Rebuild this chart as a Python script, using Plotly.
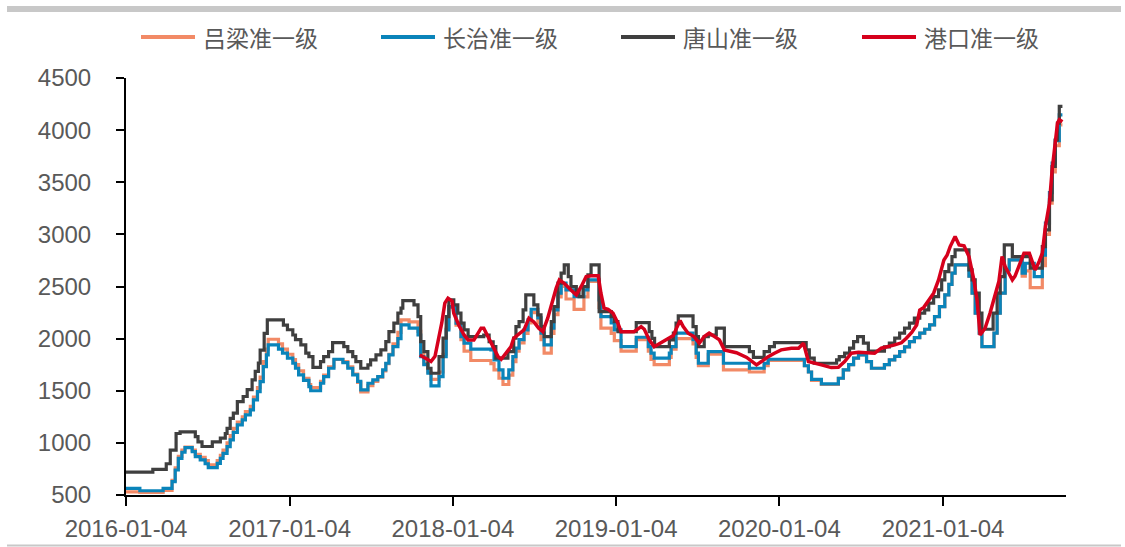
import plotly.graph_objects as go

# ---------------- data ----------------
series_names = ["吕梁准一级", "长治准一级", "唐山准一级", "港口准一级"]
series_colors = ["#F28A66", "#0A84BA", "#3F3F3F", "#D6001C"]

x_tick_dates = ["2016-01-04", "2017-01-04", "2018-01-04", "2019-01-04", "2020-01-04", "2021-01-04"]
y_ticks = [500, 1000, 1500, 2000, 2500, 3000, 3500, 4000, 4500]

# 长治准一级 (blue)
cz_dates = [
    "2016-01-04", "2016-02-04", "2016-03-27", "2016-04-16", "2016-04-23", "2016-04-30", "2016-05-08", "2016-05-15",
    "2016-05-31", "2016-06-07", "2016-06-18", "2016-06-29", "2016-07-06", "2016-07-26", "2016-08-02", "2016-08-08",
    "2016-08-17", "2016-08-24", "2016-08-31", "2016-09-09", "2016-09-20", "2016-09-27", "2016-10-08", "2016-10-15",
    "2016-10-24", "2016-10-30", "2016-11-06", "2016-11-13", "2016-11-17", "2016-12-10", "2016-12-19", "2016-12-30",
    "2017-01-11", "2017-01-17", "2017-01-24", "2017-02-04", "2017-02-16", "2017-02-20", "2017-03-14", "2017-03-21",
    "2017-04-01", "2017-04-13", "2017-05-03", "2017-05-14", "2017-05-25", "2017-06-05", "2017-06-12", "2017-06-28",
    "2017-07-09", "2017-07-20", "2017-07-31", "2017-08-07", "2017-08-14", "2017-08-23", "2017-09-03", "2017-09-10",
    "2017-09-28", "2017-10-18", "2017-10-24", "2017-10-31", "2017-11-09", "2017-11-16", "2017-12-04", "2017-12-13",
    "2017-12-20", "2017-12-26", "2018-01-11", "2018-01-22", "2018-01-29", "2018-02-13", "2018-03-30", "2018-04-06",
    "2018-04-17", "2018-04-26", "2018-05-09", "2018-05-18", "2018-05-25", "2018-06-01", "2018-06-12", "2018-06-21",
    "2018-06-28", "2018-07-13", "2018-07-20", "2018-07-27", "2018-08-12", "2018-08-18", "2018-08-27", "2018-09-03",
    "2018-09-14", "2018-10-02", "2018-10-24", "2018-11-02", "2018-11-27", "2018-12-01", "2018-12-24", "2018-12-31",
    "2019-01-15", "2019-02-18", "2019-03-17", "2019-03-23", "2019-03-30", "2019-05-03", "2019-05-07", "2019-05-18",
    "2019-06-25", "2019-07-02", "2019-07-07", "2019-07-29", "2019-09-01", "2019-10-29", "2019-12-01", "2019-12-10",
    "2020-02-29", "2020-03-09", "2020-03-16", "2020-04-07", "2020-05-15", "2020-05-26", "2020-06-07", "2020-06-18",
    "2020-06-29", "2020-07-17", "2020-07-28", "2020-08-26", "2020-09-06", "2020-09-18", "2020-09-29", "2020-10-10",
    "2020-10-21", "2020-11-01", "2020-11-13", "2020-11-24", "2020-12-05", "2020-12-16", "2020-12-27", "2021-01-08",
    "2021-01-17", "2021-01-24", "2021-01-31", "2021-03-03", "2021-03-10", "2021-03-17", "2021-03-26", "2021-04-01",
    "2021-04-28", "2021-05-05", "2021-05-12", "2021-05-23", "2021-06-01", "2021-06-30", "2021-07-07", "2021-07-27",
    "2021-08-14", "2021-08-21", "2021-08-30", "2021-09-05", "2021-09-12", "2021-09-21", "2021-09-28",
]
cz_values = [
    564, 541, 564, 628, 740, 852, 910, 954,
    916, 868, 836, 800, 762, 804, 852, 900,
    964, 1028, 1100, 1172, 1220, 1268, 1316, 1412,
    1492, 1588, 1731, 1844, 1940, 1900, 1860, 1812,
    1764, 1716, 1652, 1600, 1540, 1500, 1572, 1636,
    1716, 1802, 1770, 1716, 1652, 1590, 1508, 1572,
    1604, 1636, 1700, 1764, 1844, 1923, 2000, 2131,
    2100, 2035, 1827, 1750, 1668, 1546, 1636, 1827,
    2083, 2307, 2148, 2019, 1956, 1900, 1892, 1796,
    1700, 1620, 1700, 1827, 1908, 1990, 2083, 2180,
    2282, 2200, 2052, 1940, 2100, 2275, 2436, 2532,
    2467, 2403, 2467, 2563, 2371, 2211, 2150, 2083,
    1923, 2013, 1923, 1860, 1812, 1860, 1923, 2052,
    1990, 1860, 1764, 1875, 1764, 1716, 1764, 1802,
    1740, 1680, 1610, 1565, 1620, 1700, 1750, 1812,
    1844, 1780, 1716, 1750, 1796, 1830, 1875, 1920,
    1971, 2010, 2052, 2090, 2131, 2211, 2307, 2419,
    2520, 2628, 2707, 2600, 2436, 2244, 2052, 1923,
    2052, 2244, 2436, 2659, 2755, 2628, 2723, 2595,
    2800, 3107, 3400, 3683, 3900, 4147, 4147,
]

# 吕梁准一级 (orange)
ll_dates = [
    "2016-01-04", "2016-02-04", "2016-03-27", "2016-04-16", "2016-04-23", "2016-04-30", "2016-05-08", "2016-05-15",
    "2016-05-31", "2016-06-07", "2016-06-18", "2016-06-29", "2016-07-06", "2016-07-26", "2016-08-02", "2016-08-08",
    "2016-08-17", "2016-08-24", "2016-08-31", "2016-09-09", "2016-09-20", "2016-09-27", "2016-10-08", "2016-10-15",
    "2016-10-24", "2016-10-30", "2016-11-06", "2016-11-13", "2016-11-17", "2016-12-10", "2016-12-19", "2016-12-30",
    "2017-01-11", "2017-01-17", "2017-01-24", "2017-02-04", "2017-02-16", "2017-02-20", "2017-03-14", "2017-03-21",
    "2017-04-01", "2017-04-13", "2017-05-03", "2017-05-14", "2017-05-25", "2017-06-05", "2017-06-12", "2017-06-28",
    "2017-07-09", "2017-07-20", "2017-07-31", "2017-08-07", "2017-08-14", "2017-08-23", "2017-09-03", "2017-09-10",
    "2017-09-28", "2017-10-18", "2017-10-24", "2017-10-31", "2017-11-09", "2017-11-16", "2017-12-04", "2017-12-13",
    "2017-12-20", "2017-12-26", "2018-01-11", "2018-01-22", "2018-01-29", "2018-02-13", "2018-03-30", "2018-04-06",
    "2018-04-17", "2018-04-26", "2018-05-09", "2018-05-18", "2018-05-25", "2018-06-01", "2018-06-12", "2018-06-21",
    "2018-06-28", "2018-07-13", "2018-07-20", "2018-07-27", "2018-08-12", "2018-08-18", "2018-08-27", "2018-09-03",
    "2018-09-14", "2018-10-02", "2018-10-24", "2018-11-02", "2018-11-27", "2018-12-01", "2018-12-24", "2018-12-31",
    "2019-01-15", "2019-02-18", "2019-03-17", "2019-03-23", "2019-03-30", "2019-05-03", "2019-05-07", "2019-05-18",
    "2019-06-25", "2019-07-02", "2019-07-07", "2019-07-29", "2019-09-01", "2019-10-29", "2019-12-01", "2019-12-10",
    "2020-02-29", "2020-03-09", "2020-03-16", "2020-04-07", "2020-05-15", "2020-05-26", "2020-06-07", "2020-06-18",
    "2020-06-29", "2020-07-17", "2020-07-28", "2020-08-26", "2020-09-06", "2020-09-18", "2020-09-29", "2020-10-10",
    "2020-10-21", "2020-11-01", "2020-11-13", "2020-11-24", "2020-12-05", "2020-12-16", "2020-12-27", "2021-01-08",
    "2021-01-17", "2021-01-24", "2021-01-31", "2021-03-03", "2021-03-10", "2021-03-17", "2021-03-26", "2021-04-01",
    "2021-04-28", "2021-05-05", "2021-05-12", "2021-05-23", "2021-06-01", "2021-06-30", "2021-07-07", "2021-07-18",
    "2021-08-14", "2021-08-21", "2021-08-30", "2021-09-05", "2021-09-12", "2021-09-21", "2021-09-28",
]
ll_values = [
    530, 525, 545, 640, 760, 870, 930, 960,
    930, 890, 860, 830, 790, 830, 880, 930,
    1000, 1070, 1140, 1200, 1250, 1300, 1350, 1440,
    1530, 1630, 1780, 1900, 1994, 1950, 1900, 1850,
    1800, 1750, 1690, 1620, 1560, 1530, 1590, 1650,
    1730, 1800, 1780, 1730, 1660, 1580, 1490, 1550,
    1590, 1630, 1690, 1760, 1850, 1950, 2060, 2180,
    2160, 2070, 1850, 1760, 1680, 1610, 1680, 1850,
    2100, 2300, 2130, 1990, 1880, 1790, 1760, 1700,
    1620, 1560, 1650, 1780, 1880, 1960, 2050, 2150,
    2250, 2150, 1990, 1860, 2050, 2230, 2400, 2500,
    2380, 2280, 2400, 2550, 2300, 2100, 2050, 1980,
    1880, 1990, 1880, 1800, 1750, 1820, 1900, 2000,
    1950, 1820, 1740, 1850, 1700, 1680, 1740, 1790,
    1740, 1680, 1600, 1560, 1620, 1700, 1750, 1812,
    1844, 1780, 1716, 1750, 1796, 1830, 1875, 1920,
    1971, 2010, 2052, 2090, 2131, 2211, 2307, 2419,
    2520, 2628, 2707, 2600, 2436, 2244, 2052, 1923,
    2052, 2244, 2436, 2659, 2755, 2600, 2650, 2490,
    2700, 3000, 3300, 3600, 3850, 4050, 4050,
]

# 唐山准一级 (dark grey)
ts_dates = [
    "2016-01-04", "2016-03-04", "2016-04-03", "2016-04-12", "2016-04-25", "2016-05-04", "2016-06-07", "2016-06-13",
    "2016-06-22", "2016-07-15", "2016-08-02", "2016-08-13", "2016-08-17", "2016-08-24", "2016-08-31", "2016-09-09",
    "2016-09-22", "2016-10-01", "2016-10-12", "2016-10-19", "2016-10-26", "2016-10-30", "2016-11-08", "2016-11-15",
    "2016-12-21", "2016-12-30", "2017-01-11", "2017-01-17", "2017-01-29", "2017-02-09", "2017-02-16", "2017-02-25",
    "2017-03-14", "2017-03-21", "2017-04-01", "2017-04-10", "2017-05-05", "2017-05-14", "2017-05-25", "2017-06-01",
    "2017-06-12", "2017-06-28", "2017-07-04", "2017-07-16", "2017-07-27", "2017-08-07", "2017-08-14", "2017-08-25",
    "2017-09-03", "2017-09-10", "2017-09-14", "2017-10-09", "2017-10-18", "2017-10-24", "2017-10-31", "2017-11-09",
    "2017-11-16", "2017-12-04", "2017-12-13", "2017-12-20", "2017-12-26", "2018-01-06", "2018-01-15", "2018-01-22",
    "2018-01-29", "2018-02-07", "2018-03-14", "2018-03-26", "2018-04-04", "2018-04-10", "2018-05-07", "2018-05-20",
    "2018-05-25", "2018-06-01", "2018-06-10", "2018-06-16", "2018-07-04", "2018-07-13", "2018-07-20", "2018-07-27",
    "2018-08-12", "2018-08-18", "2018-08-27", "2018-09-03", "2018-09-10", "2018-09-19", "2018-09-25", "2018-10-07",
    "2018-10-13", "2018-10-22", "2018-11-02", "2018-11-09", "2018-11-27", "2018-12-24", "2018-12-31", "2019-01-08",
    "2019-02-18", "2019-03-19", "2019-03-25", "2019-03-31", "2019-05-03", "2019-05-12", "2019-05-18", "2019-05-23",
    "2019-06-25", "2019-07-02", "2019-07-07", "2019-07-20", "2019-07-29", "2019-08-16", "2019-09-03", "2019-10-29",
    "2019-11-07", "2019-12-01", "2019-12-13", "2019-12-24", "2020-03-04", "2020-03-11", "2020-03-22", "2020-05-11",
    "2020-05-17", "2020-05-29", "2020-06-09", "2020-06-18", "2020-06-27", "2020-07-10", "2020-07-21", "2020-08-26",
    "2020-09-06", "2020-09-18", "2020-09-29", "2020-10-10", "2020-10-21", "2020-11-01", "2020-11-13", "2020-11-24",
    "2020-12-03", "2020-12-14", "2020-12-25", "2021-01-01", "2021-01-08", "2021-01-17", "2021-01-24", "2021-01-31",
    "2021-03-03", "2021-03-10", "2021-03-17", "2021-03-26", "2021-04-01", "2021-04-26", "2021-05-05", "2021-05-12",
    "2021-05-21", "2021-06-08", "2021-07-18", "2021-08-14", "2021-08-21", "2021-08-30", "2021-09-05", "2021-09-12",
    "2021-09-17", "2021-09-21", "2021-09-28",
]
ts_values = [
    720, 745, 800, 930, 1090, 1105, 1060, 1010,
    965, 1010, 1045, 1090, 1140, 1235, 1285, 1395,
    1445, 1510, 1605, 1685, 1765, 1890, 2050, 2180,
    2130, 2085, 2035, 1990, 1940, 1860, 1827, 1725,
    1780, 1827, 1875, 1962, 1923, 1875, 1827, 1780,
    1716, 1748, 1796, 1844, 1892, 1971, 2067, 2148,
    2244, 2292, 2365, 2323, 2211, 1971, 1875, 1716,
    1668, 1827, 2004, 2211, 2371, 2323, 2244, 2148,
    2083, 2020, 2035, 1970, 1923, 1812, 1875, 2004,
    2115, 2163, 2275, 2419, 2323, 2227, 2115, 2019,
    2163, 2307, 2532, 2628, 2707, 2595, 2499, 2451,
    2403, 2499, 2611, 2707, 2259, 2211, 2163, 2067,
    2154, 2067, 2003, 1923, 1988, 2052, 2148, 2218,
    2115, 2019, 1923, 2019, 2035, 2100, 1923, 1875,
    1821, 1875, 1923, 1962, 1892, 1812, 1764, 1796,
    1827, 1860, 1908, 1971, 2019, 1956, 1880, 1920,
    1956, 2004, 2052, 2100, 2148, 2196, 2244, 2276,
    2340, 2403, 2467, 2563, 2643, 2707, 2787, 2851,
    2659, 2563, 2436, 2244, 2090, 2244, 2436, 2595,
    2899, 2787, 2676, 2883, 3043, 3331, 3651, 3907,
    4067, 4227, 4227,
]

# 港口准一级 (red)
gk_dates = [
    "2017-10-22", "2017-11-11", "2017-11-16", "2017-11-25", "2017-12-04", "2017-12-10", "2017-12-17", "2017-12-24",
    "2018-01-02", "2018-01-06", "2018-01-17", "2018-01-29", "2018-02-07", "2018-02-20", "2018-03-01", "2018-03-08",
    "2018-03-14", "2018-03-23", "2018-04-04", "2018-04-15", "2018-04-22", "2018-05-03", "2018-05-14", "2018-05-20",
    "2018-06-01", "2018-06-12", "2018-06-23", "2018-07-04", "2018-07-15", "2018-07-24", "2018-08-04", "2018-08-12",
    "2018-08-23", "2018-08-30", "2018-09-10", "2018-09-25", "2018-10-07", "2018-10-18", "2018-10-29", "2018-11-09",
    "2018-11-25", "2018-12-01", "2018-12-08", "2018-12-17", "2018-12-28", "2019-01-08", "2019-01-15", "2019-02-13",
    "2019-03-01", "2019-03-08", "2019-03-19", "2019-03-30", "2019-04-10", "2019-04-26", "2019-05-12", "2019-05-20",
    "2019-05-27", "2019-06-03", "2019-06-14", "2019-06-27", "2019-07-09", "2019-07-20", "2019-07-31", "2019-08-12",
    "2019-08-23", "2019-09-03", "2019-09-30", "2019-10-23", "2019-11-03", "2019-11-14", "2019-11-25", "2019-12-10",
    "2019-12-24", "2020-01-08", "2020-01-31", "2020-02-16", "2020-02-27", "2020-03-09", "2020-04-07", "2020-04-29",
    "2020-05-15", "2020-05-29", "2020-06-13", "2020-06-29", "2020-08-04", "2020-08-19", "2020-09-18", "2020-10-03",
    "2020-10-14", "2020-10-26", "2020-11-06", "2020-11-13", "2020-11-22", "2020-12-03", "2020-12-14", "2020-12-25",
    "2021-01-06", "2021-01-13", "2021-01-20", "2021-01-31", "2021-02-09", "2021-02-20", "2021-03-03", "2021-03-14",
    "2021-03-21", "2021-03-28", "2021-04-08", "2021-04-19", "2021-04-30", "2021-05-09", "2021-05-16", "2021-05-23",
    "2021-06-01", "2021-06-08", "2021-06-14", "2021-06-25", "2021-07-04", "2021-07-16", "2021-07-22", "2021-07-29",
    "2021-08-07", "2021-08-14", "2021-08-21", "2021-08-30", "2021-09-05", "2021-09-12", "2021-09-17", "2021-09-21",
    "2021-09-28",
]
gk_values = [
    1844, 1796, 1780, 1830, 2004, 2148, 2340, 2388,
    2360, 2244, 2131, 2035, 1988, 1988, 2050, 2100,
    2100, 2019, 1908, 1827, 1802, 1860, 1923, 2004,
    2040, 2083, 2196, 2160, 2100, 2067, 2196, 2323,
    2484, 2563, 2530, 2467, 2419, 2500, 2595, 2602,
    2602, 2436, 2292, 2280, 2244, 2148, 2067, 2067,
    2115, 2090, 1988, 1923, 1950, 1988, 2030, 2110,
    2173, 2115, 2052, 2020, 1956, 2020, 2052, 2020,
    1988, 1892, 1865, 1820, 1780, 1748, 1780, 1827,
    1860, 1892, 1908, 1908, 1956, 1780, 1748, 1722,
    1725, 1780, 1860, 1870, 1860, 1908, 1940, 1960,
    2004, 2060, 2131, 2275, 2300, 2371, 2436, 2563,
    2755, 2800, 2883, 2979, 2899, 2890, 2787, 2563,
    2371, 2035, 2100, 2244, 2403, 2550, 2787, 2691,
    2620, 2563, 2600, 2723, 2819, 2819, 2750, 2659,
    2740, 2819, 3075, 3299, 3619, 3907, 4067, 4099,
    4080,
]

# ---------------- layout geometry (pixels) ----------------
W, H = 1125, 547
L, R, T, B = 126, 1066, 78, 495


def px(x):
    return (x - L) / (R - L)


def py(y):
    return (B - y) / (B - T)


tick_font = dict(family="Liberation Sans, Arial, sans-serif", size=24, color="#595959")
cjk_font = dict(family="Noto Sans CJK SC, sans-serif", size=23, color="#595959")

fig = go.Figure()
all_dates = [ll_dates, cz_dates, ts_dates, gk_dates]
all_values = [ll_values, cz_values, ts_values, gk_values]
shapes_kind = ["hv", "hv", "hv", "linear"]
widths = [3.2, 3.2, 3.2, 3.5]
for name, color, d, v, sh, lw in zip(series_names, series_colors, all_dates, all_values, shapes_kind, widths):
    fig.add_trace(go.Scatter(
        x=d, y=v, name=name, mode="lines",
        line=dict(color=color, width=lw, shape=sh),
        showlegend=False,
    ))

shapes = []
annotations = []
# top grey band and bottom grey rule
shapes.append(dict(type="line", xref="paper", yref="paper", x0=px(7), x1=px(1121), y0=py(9), y1=py(9),
                   line=dict(color="#C8C8C8", width=6)))
shapes.append(dict(type="line", xref="paper", yref="paper", x0=px(7), x1=px(1121), y0=py(545.5), y1=py(545.5),
                   line=dict(color="#C8C8C8", width=2)))

# legend (manual, to match the reference spacing)
legend_x = [141, 381, 621, 862]
legend_y = 37
for name, color, lx in zip(series_names, series_colors, legend_x):
    shapes.append(dict(type="line", xref="paper", yref="paper", x0=px(lx), x1=px(lx + 54),
                       y0=py(legend_y), y1=py(legend_y), line=dict(color=color, width=4)))
    annotations.append(dict(xref="paper", yref="paper", x=px(lx + 60), y=py(legend_y), text=name,
                            showarrow=False, xanchor="left", yanchor="middle", font=cjk_font))

fig.update_layout(
    width=W, height=H,
    margin=dict(l=L, r=W - R, t=T, b=H - B, pad=0, autoexpand=False),
    paper_bgcolor="white", plot_bgcolor="white",
    shapes=shapes, annotations=annotations,
    xaxis=dict(
        type="date", range=["2016-01-04", "2021-10-06"],
        tickvals=x_tick_dates, ticktext=x_tick_dates,
        showgrid=False, zeroline=False, automargin=False,
        showline=True, linecolor="#000000", linewidth=2,
        ticks="outside", ticklen=9, tickwidth=1.5, tickcolor="#000000",
        tickfont=tick_font, ticklabelstandoff=2,
    ),
    yaxis=dict(
        range=[500, 4500], tickvals=y_ticks,
        showgrid=False, zeroline=False, automargin=False,
        showline=True, linecolor="#000000", linewidth=2,
        ticks="outside", ticklen=8, tickwidth=1.5, tickcolor="#000000",
        tickfont=tick_font, ticklabelstandoff=20,
    ),
)

fig.write_html("out.html")
